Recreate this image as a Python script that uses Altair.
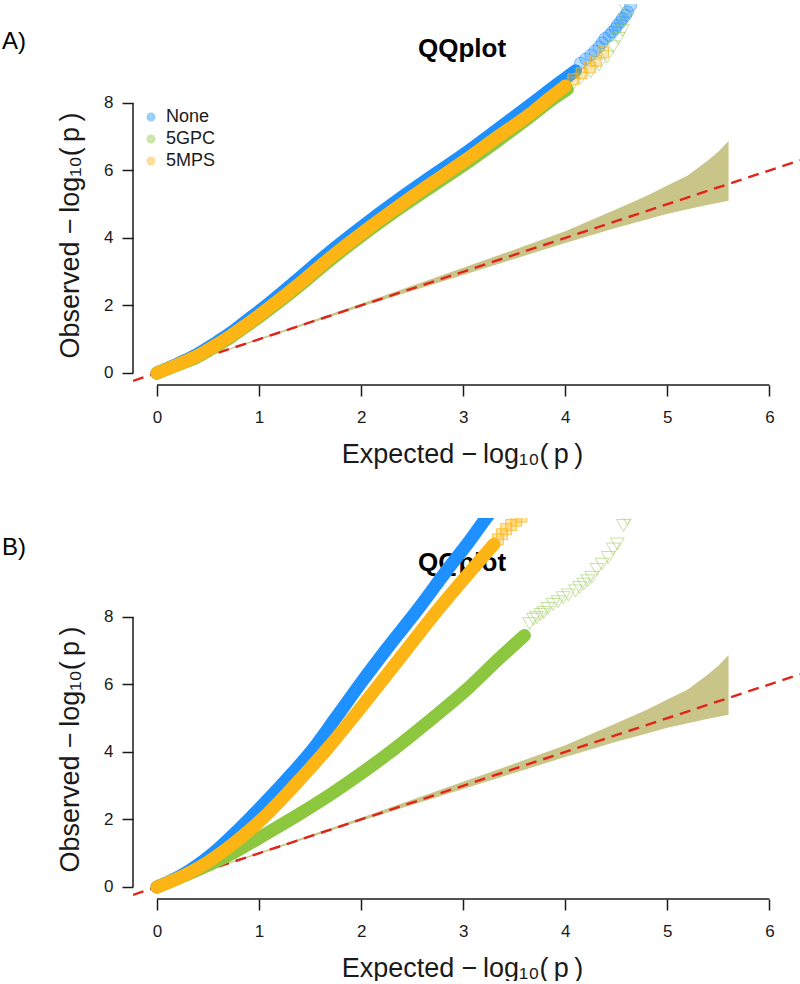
import altair as alt
import pandas as pd

FONT = "Liberation Sans"
SERIES = ["None", "5GPC", "5MPS"]
COLORS = ["#1E90FF", "#8DC63F", "#FDB515"]
CI_COLOR = "#C9C487"
DIAG_COLOR = "#E2231A"
INK = "#1a1a1a"

X_TICKS = [0, 1, 2, 3, 4, 5, 6]
Y_TICKS = [0, 2, 4, 6, 8]
X_DOMAIN = [-0.235, 6.30]
Y_DOMAIN = [-0.356, 10.93]

W, H = 667, 381

# 95% band around the null expectation
ci_x = [0.0, 1.0, 2.0, 3.0, 3.5, 4.0, 4.5, 4.8, 5.0, 5.2, 5.4, 5.5, 5.6]
ci_lo = [0.0, 0.98, 1.96, 2.90, 3.38, 3.85, 4.30, 4.55, 4.72, 4.85, 4.98, 5.04, 5.10]
ci_hi = [0.0, 1.02, 2.05, 3.12, 3.65, 4.20, 4.85, 5.25, 5.55, 5.85, 6.30, 6.55, 6.87]

# ---- panel A: observed vs expected -log10(p)
a_none_x = [0.0, 0.22, 0.39, 0.55, 0.72, 0.88, 1.04, 1.37, 1.70, 2.02, 2.35, 2.68, 3.00,
            3.33, 3.66, 3.90, 4.10]
a_none_y = [0.0, 0.29, 0.54, 0.84, 1.18, 1.55, 1.92, 2.75, 3.60, 4.36, 5.10, 5.80, 6.46,
            7.20, 7.95, 8.50, 8.95]
a_gpc_x = [0.0, 0.22, 0.39, 0.55, 0.72, 0.88, 1.04, 1.37, 1.70, 2.02, 2.35, 2.68, 3.00,
           3.33, 3.66, 3.85, 4.02]
a_gpc_y = [0.0, 0.26, 0.47, 0.75, 1.06, 1.40, 1.75, 2.52, 3.35, 4.10, 4.82, 5.50, 6.15,
           6.86, 7.60, 8.05, 8.40]
a_mps_x = [0.0, 0.22, 0.39, 0.55, 0.72, 0.88, 1.04, 1.37, 1.70, 2.02, 2.35, 2.68, 3.00,
           3.33, 3.66, 3.85, 4.00]
a_mps_y = [0.0, 0.27, 0.50, 0.78, 1.10, 1.44, 1.80, 2.58, 3.42, 4.17, 4.90, 5.60, 6.26,
           6.98, 7.68, 8.15, 8.50]

a_none_tail_x = [4.15, 4.20, 4.25, 4.29, 4.33, 4.36, 4.39, 4.43, 4.46, 4.49, 4.51, 4.54,
                 4.56, 4.59, 4.61, 4.64]
a_none_tail_y = [9.18, 9.30, 9.42, 9.54, 9.66, 9.78, 9.91, 10.00, 10.10, 10.20, 10.30, 10.40,
                 10.50, 10.60, 10.70, 10.88]
a_gpc_tail_x = [4.08, 4.15, 4.25, 4.33, 4.41, 4.47, 4.52, 4.56, 4.59, 4.57]
a_gpc_tail_y = [8.58, 8.73, 8.92, 9.12, 9.37, 9.66, 9.91, 10.15, 10.46, 10.90]
a_mps_tail_x = [4.08, 4.16, 4.24, 4.30, 4.37]
a_mps_tail_y = [8.70, 8.88, 9.05, 9.25, 9.50]

# ---- panel B
b_none_x = [0.0, 0.25, 0.55, 0.80, 1.06, 1.32, 1.52, 1.75, 2.00, 2.25, 2.55, 2.87, 3.05,
            3.23, 3.40]
b_none_y = [0.0, 0.36, 1.00, 1.70, 2.50, 3.35, 4.05, 5.00, 6.05, 7.05, 8.20, 9.50, 10.20,
            10.95, 11.60]
b_gpc_x = [0.0, 0.41, 0.74, 1.06, 1.39, 1.72, 2.05, 2.38, 2.70, 3.03, 3.36, 3.60]
b_gpc_y = [0.0, 0.52, 1.00, 1.56, 2.15, 2.78, 3.47, 4.22, 5.00, 5.84, 6.79, 7.45]
b_mps_x = [0.0, 0.20, 0.44, 0.77, 1.10, 1.36, 1.67, 1.92, 2.19, 2.45, 2.75, 3.10, 3.30]
b_mps_y = [0.0, 0.25, 0.63, 1.34, 2.22, 3.05, 4.10, 5.02, 6.05, 7.05, 8.20, 9.45, 10.15]

b_none_tail_x = []
b_none_tail_y = []
b_gpc_tail_x = [3.65, 3.69, 3.72, 3.76, 3.79, 3.83, 3.88, 3.93, 3.98, 4.03, 4.10,
                4.14, 4.18, 4.22, 4.26, 4.31, 4.36, 4.42, 4.47, 4.51, 4.57, 4.61]
b_gpc_tail_y = [7.80, 7.93, 7.98, 8.07, 8.13, 8.25, 8.37, 8.45, 8.57, 8.65, 8.77,
                8.87, 8.97, 9.07, 9.17, 9.41, 9.56, 9.76, 10.01, 10.16, 10.71, 10.90]
b_mps_tail_x = [3.34, 3.38, 3.42, 3.47, 3.52, 3.57]
b_mps_tail_y = [10.30, 10.45, 10.60, 10.72, 10.85, 10.97]

xs = alt.Scale(domain=X_DOMAIN, nice=False, zero=False)
ys = alt.Scale(domain=Y_DOMAIN, nice=False, zero=False)
color_scale = alt.Scale(domain=SERIES, range=COLORS)

X_TITLE = "Expected  \u2212\u2009log\u2081\u2080(\u2009p\u2009)"
Y_TITLE = "Observed  \u2212\u2009log\u2081\u2080(\u2009p\u2009)"

x_axis = alt.Axis(
    values=X_TICKS, format="d", domain=False, grid=False,
    tickSize=11, tickWidth=1.5, tickColor=INK,
    labelFont=FONT, labelFontSize=17, labelColor=INK, labelPadding=13, labelFlush=False,
    title=X_TITLE, titleFont=FONT, titleFontSize=27,
    titleFontWeight="normal", titleColor=INK, titleX=329, titleY=77,
    titleBaseline="alphabetic", titleAlign="center",
)
y_axis = alt.Axis(
    values=Y_TICKS, format="d", domain=False, grid=False,
    tickSize=11, tickWidth=1.5, tickColor=INK,
    labelFont=FONT, labelFontSize=17, labelColor=INK, labelPadding=9, labelAngle=0,
    labelFlush=False,
    title=Y_TITLE, titleFont=FONT, titleFontSize=27,
    titleFontWeight="normal", titleColor=INK, titleAngle=270, titleX=-55, titleY=231,
    titleBaseline="alphabetic", titleAlign="center",
)


def X(field):
    return alt.X(field, scale=xs, axis=x_axis)


def Y(field):
    return alt.Y(field, scale=ys, axis=y_axis)


def body_df(name, xv, yv):
    return pd.DataFrame({"series": name, "x": xv, "y": yv, "k": range(len(xv))})


def make_panel(tag, tag_y, bodies, tails):
    ci_df = pd.DataFrame({"x": ci_x, "lo": ci_lo, "hi": ci_hi})
    band = alt.Chart(ci_df).mark_area(color=CI_COLOR, clip=True).encode(
        x=X("x:Q"), y=Y("lo:Q"), y2="hi:Q"
    )
    diag_df = pd.DataFrame({"x": X_DOMAIN, "y": X_DOMAIN})
    diag = alt.Chart(diag_df).mark_line(
        color=DIAG_COLOR, strokeWidth=2.4, strokeDash=[11, 7], clip=True
    ).encode(x=X("x:Q"), y=Y("y:Q"))

    title = alt.Chart(pd.DataFrame({"t": ["QQplot"]})).mark_text(
        font=FONT, fontSize=26, fontWeight="bold", color="#000",
        align="center", baseline="alphabetic",
    ).encode(text="t:N", x=alt.value(329), y=alt.value(53))

    layers = [band, diag, title]
    for i, (name, xv, yv) in enumerate(bodies):
        legend = None
        if i == 0:
            legend = alt.Legend(
                title=None, orient="none", legendX=9, legendY=104,
                symbolType="circle", symbolSize=16, symbolStrokeWidth=5,
                symbolOpacity=0.45, labelFont=FONT, labelFontSize=18,
                labelColor=INK, rowPadding=-2, padding=0, labelOffset=6,
            )
        layers.append(
            alt.Chart(body_df(name, xv, yv)).mark_line(
                strokeWidth=13, strokeCap="round", strokeJoin="round",
                interpolate="monotone", clip=True,
            ).encode(
                x=X("x:Q"), y=Y("y:Q"), order="k:Q",
                color=alt.Color("series:N", scale=color_scale, legend=legend),
            )
        )

    none_t, gpc_t, mps_t = tails
    if len(none_t[0]):
        layers.append(
            alt.Chart(pd.DataFrame({"x": none_t[0], "y": none_t[1]})).mark_point(
                shape="circle", size=144, filled=True, fill=COLORS[0], fillOpacity=0.3,
                stroke=COLORS[0], strokeOpacity=0.55, strokeWidth=1, clip=True,
            ).encode(x=X("x:Q"), y=Y("y:Q"))
        )
    layers.append(
        alt.Chart(pd.DataFrame({"x": gpc_t[0], "y": gpc_t[1]})).mark_point(
            shape="triangle-down", size=190, filled=False,
            stroke=COLORS[1], strokeOpacity=0.7, strokeWidth=1, clip=True,
        ).encode(x=X("x:Q"), y=Y("y:Q"))
    )
    layers.append(
        alt.Chart(pd.DataFrame({"x": mps_t[0], "y": mps_t[1]})).mark_point(
            shape="square", size=121, filled=True, fill=COLORS[2], fillOpacity=0.35,
            stroke=COLORS[2], strokeOpacity=0.7, strokeWidth=1, clip=True,
        ).encode(x=X("x:Q"), y=Y("y:Q"))
    )

    # R-style axis lines spanning only the tick range
    xline = alt.Chart(pd.DataFrame({"a": [min(X_TICKS)], "b": [max(X_TICKS)]})).mark_rule(
        color=INK, strokeWidth=1.5
    ).encode(x=X("a:Q"), x2="b:Q", y=alt.value(H))
    yline = alt.Chart(pd.DataFrame({"a": [min(Y_TICKS)], "b": [max(Y_TICKS)]})).mark_rule(
        color=INK, strokeWidth=1.5
    ).encode(y=Y("a:Q"), y2="b:Q", x=alt.value(0))

    label = alt.Chart(pd.DataFrame({"t": [tag]})).mark_text(
        font=FONT, fontSize=24, color="#000", align="left", baseline="middle"
    ).encode(text="t:N", x=alt.value(-131), y=alt.value(tag_y))

    layers += [xline, yline, label]
    return alt.layer(*layers).properties(width=W, height=H)


panel_a = make_panel(
    "A)", 38,
    [("None", a_none_x, a_none_y), ("5GPC", a_gpc_x, a_gpc_y), ("5MPS", a_mps_x, a_mps_y)],
    [(a_none_tail_x, a_none_tail_y), (a_gpc_tail_x, a_gpc_tail_y), (a_mps_tail_x, a_mps_tail_y)],
)
panel_b = make_panel(
    "B)", 30,
    [("None", b_none_x, b_none_y), ("5GPC", b_gpc_x, b_gpc_y), ("5MPS", b_mps_x, b_mps_y)],
    [(b_none_tail_x, b_none_tail_y), (b_gpc_tail_x, b_gpc_tail_y), (b_mps_tail_x, b_mps_tail_y)],
)

chart = alt.vconcat(panel_a, panel_b, spacing=51).properties(
    padding={"left": 2, "top": 4, "right": 0, "bottom": 0},
    background="white",
).configure_view(strokeWidth=0)

chart.save("out.html", embed_options={"renderer": "svg", "actions": False})
